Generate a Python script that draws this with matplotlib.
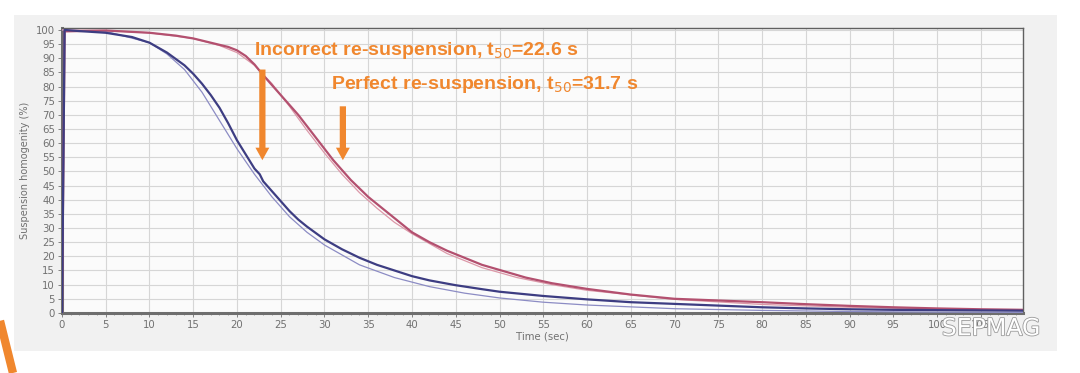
import numpy as np
import matplotlib
matplotlib.use("Agg")
import matplotlib.pyplot as plt
from matplotlib.patches import Rectangle
from matplotlib.lines import Line2D
import matplotlib.patheffects as pe

# --- data ---
t_incorrect = [0, 0.3, 2, 5, 8, 10, 12, 14, 15, 16, 17, 18, 19, 20, 21, 22, 22.6, 23,
               24, 25, 26, 27, 28, 30, 32, 34, 36, 38, 40, 42, 45, 48, 50, 55, 60,
               65, 70, 75, 80, 85, 90, 95, 100, 105, 110]
v_incorrect = [0, 100, 99.6, 99, 97.5, 95.5, 92, 87.5, 84.5, 81, 77, 72.5, 67, 61, 56,
               51, 49, 46.5, 43, 39.5, 36, 33, 30.5, 26, 22.5, 19.5, 17, 15, 13, 11.5,
               9.8, 8.4, 7.5, 6, 4.8, 3.8, 3.2, 2.6, 2, 1.6, 1.3, 1.1, 1, 0.9, 0.8]

t_incorrect_fit = [0, 5, 10, 12, 14, 16, 18, 20, 22, 24, 26, 28, 30, 34, 38, 42, 46,
                   50, 55, 60, 70, 80, 90, 100, 110]
v_incorrect_fit = [100, 99.5, 95.5, 91.5, 86, 78, 68, 58, 49, 41, 34, 28.5, 24, 17,
                   12.5, 9.3, 7, 5.3, 3.8, 2.8, 1.5, 0.9, 0.5, 0.3, 0.2]

t_perfect = [0, 0.3, 5, 10, 13, 15, 17, 19, 20, 21, 22, 23, 24, 25, 26, 27, 28, 29,
             30, 31, 32, 33, 34, 35, 36, 38, 40, 42, 44, 46, 48, 50, 53, 56, 60, 65,
             70, 75, 80, 85, 90, 95, 100, 105, 110]
v_perfect = [0, 99.5, 99.8, 99, 98, 97, 95.5, 94, 92.8, 90.8, 87.8, 84, 80.5, 77, 73.5,
             70, 66, 62, 58, 54, 50.5, 47, 44, 41, 38.5, 33.5, 28.5, 25, 22, 19.5, 17,
             15.2, 12.5, 10.5, 8.5, 6.5, 5, 4.4, 3.8, 3.1, 2.5, 2, 1.6, 1.3, 1.1]

t_perfect_fit = [0, 5, 10, 15, 18, 20, 22, 24, 26, 28, 30, 32, 34, 36, 38, 40, 44, 48,
                 52, 56, 60, 70, 80, 90, 100, 110]
v_perfect_fit = [100, 99.8, 99, 97, 94.5, 92, 87.5, 81, 73, 64.5, 56.5, 49, 42.5, 37, 32,
                 28, 21, 16, 12.5, 10, 8, 4.8, 3, 2, 1.3, 0.9]

t50_labels = ["Incorrect re-suspension, t$_{50}$=22.6 s",
              "Perfect re-suspension, t$_{50}$=31.7 s"]
t50_values = [22.6, 31.7]

orange = "#f0872e"

fig = plt.figure(figsize=(10.8, 3.73), dpi=100)
fig.patch.set_facecolor("white")

# grey panel behind the chart
panel = Rectangle((0.013, 0.06), 0.966, 0.9, transform=fig.transFigure,
                  facecolor="#f1f1f1", edgecolor="none", zorder=-5)
fig.add_artist(panel)

ax = fig.add_axes([0.0574, 0.161, 0.8896, 0.764])
ax.set_zorder(2)
ax.set_facecolor("#fbfbfb")

ax.plot(t_incorrect_fit, v_incorrect_fit, color="#8c8cc4", lw=0.9, zorder=3)
ax.plot(t_perfect_fit, v_perfect_fit, color="#dc98a8", lw=0.9, zorder=3)
ax.plot(t_perfect, v_perfect, color="#b3506f", lw=1.6, zorder=4)
ax.plot(t_incorrect, v_incorrect, color="#3d3d82", lw=1.6, zorder=5)

ax.set_xlim(0, 109.8)
ax.set_ylim(0, 100.7)
ax.set_xticks(np.arange(0, 110, 5))
ax.set_yticks(np.arange(0, 101, 5))
ax.set_xticks(np.arange(0, 110, 1), minor=True)
ax.grid(True, which="major", color="#d6d6d6", lw=0.8)
ax.tick_params(axis="both", which="major", labelsize=7.3, colors="#707070",
               length=3, width=0.6, pad=2)
ax.tick_params(axis="x", which="minor", length=1.5, color="#909090")
ax.tick_params(axis="y", which="minor", length=0)

for side in ["left", "bottom"]:
    ax.spines[side].set_color("#6e6e6e")
    ax.spines[side].set_linewidth(2.2)
for side in ["top", "right"]:
    ax.spines[side].set_color("#606060")
    ax.spines[side].set_linewidth(1.0)

ax.set_xlabel("Time (sec)", fontsize=7.3, color="#707070", labelpad=1)
ax.set_ylabel("Suspension homogenity (%)", fontsize=7, color="#707070", labelpad=4)

# annotations
text_font = ["Liberation Sans", "DejaVu Sans"]
ax.text(21.9, 92.6, t50_labels[0], color=orange, fontsize=14, fontweight="bold",
        family=text_font, va="center", ha="left", zorder=6)
ax.text(30.8, 80.6, t50_labels[1], color=orange, fontsize=14, fontweight="bold",
        family=text_font, va="center", ha="left", zorder=6)

arrow_style = "simple,head_length=0.9,head_width=1.0,tail_width=0.45"
ax.annotate("", xy=(t50_values[0] + 0.3, 53), xytext=(t50_values[0] + 0.3, 87),
            arrowprops=dict(arrowstyle=arrow_style, color=orange, lw=0), zorder=6)
ax.annotate("", xy=(t50_values[1] + 0.4, 53), xytext=(t50_values[1] + 0.4, 74),
            arrowprops=dict(arrowstyle=arrow_style, color=orange, lw=0), zorder=6)

# orange stroke at the lower left corner
fig.add_artist(Line2D([0.0, 0.012], [0.14, 0.0], transform=fig.transFigure,
                      color=orange, lw=6, solid_capstyle="butt", zorder=5))

# watermark
fig.text(0.872, 0.12, "SEPMAG", fontsize=17, color="white", ha="left", va="center",
         zorder=10, path_effects=[pe.withStroke(linewidth=1.2, foreground="#9a9a9a")])

fig.savefig("out.png", dpi=100, facecolor="white")
